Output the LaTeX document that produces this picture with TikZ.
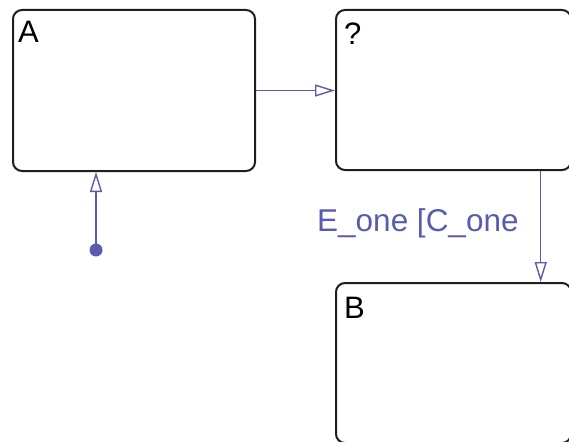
\documentclass[tikz,border=0pt]{standalone}
\usepackage{fontspec}
\setmainfont{Liberation Sans}
\usetikzlibrary{arrows.meta}
\definecolor{transcol}{RGB}{88,92,172}
\definecolor{boxcol}{RGB}{30,30,30}
\begin{document}
\begin{tikzpicture}[x=1pt,y=-1pt,
  statebox/.style={draw=boxcol,line width=2pt,rounded corners=9pt,inner sep=0pt,minimum width=#1},
  statebox/.default=242pt,
  statename/.style={inner sep=0pt,anchor=base west,font=\fontsize{31}{31}\selectfont,text=black},
  trans/.style={draw=transcol,line width=1.5pt,-{Triangle[open,length=20pt,width=12pt,line width=1.4pt]}},
  translabel/.style={inner sep=0pt,anchor=base west,font=\fontsize{31.5}{31.5}\selectfont,text=transcol}]
\useasboundingbox (0,0) rectangle (569,441);
\clip (0,0) rectangle (569,441);
\node[statebox=242pt,minimum height=161pt] (A) at (134,90.5) {};
\node[statebox=235pt,minimum height=160pt] (Q) at (453.5,90) {};
\node[statebox=235pt,minimum height=160pt] (B) at (453.5,363) {};
\node[statename] (lA) at (18,43) {A};
\node[statename] (lQ) at (344,45) {?};
\node[statename] (lB) at (344,318) {B};
\draw[trans] (A.east) -- (A.east -| Q.west);
\coordinate (qb) at ([xshift=87.2pt]Q.south);
\draw[trans] (qb) -- (qb |- B.north);
\coordinate (d) at (96,250);
\fill[transcol] (d) circle (6.5pt);
\draw[trans] (d) -- (d |- A.south);
\node[translabel] (lab) at (317,231) {E\_one [C\_one};
\end{tikzpicture}
\end{document}
